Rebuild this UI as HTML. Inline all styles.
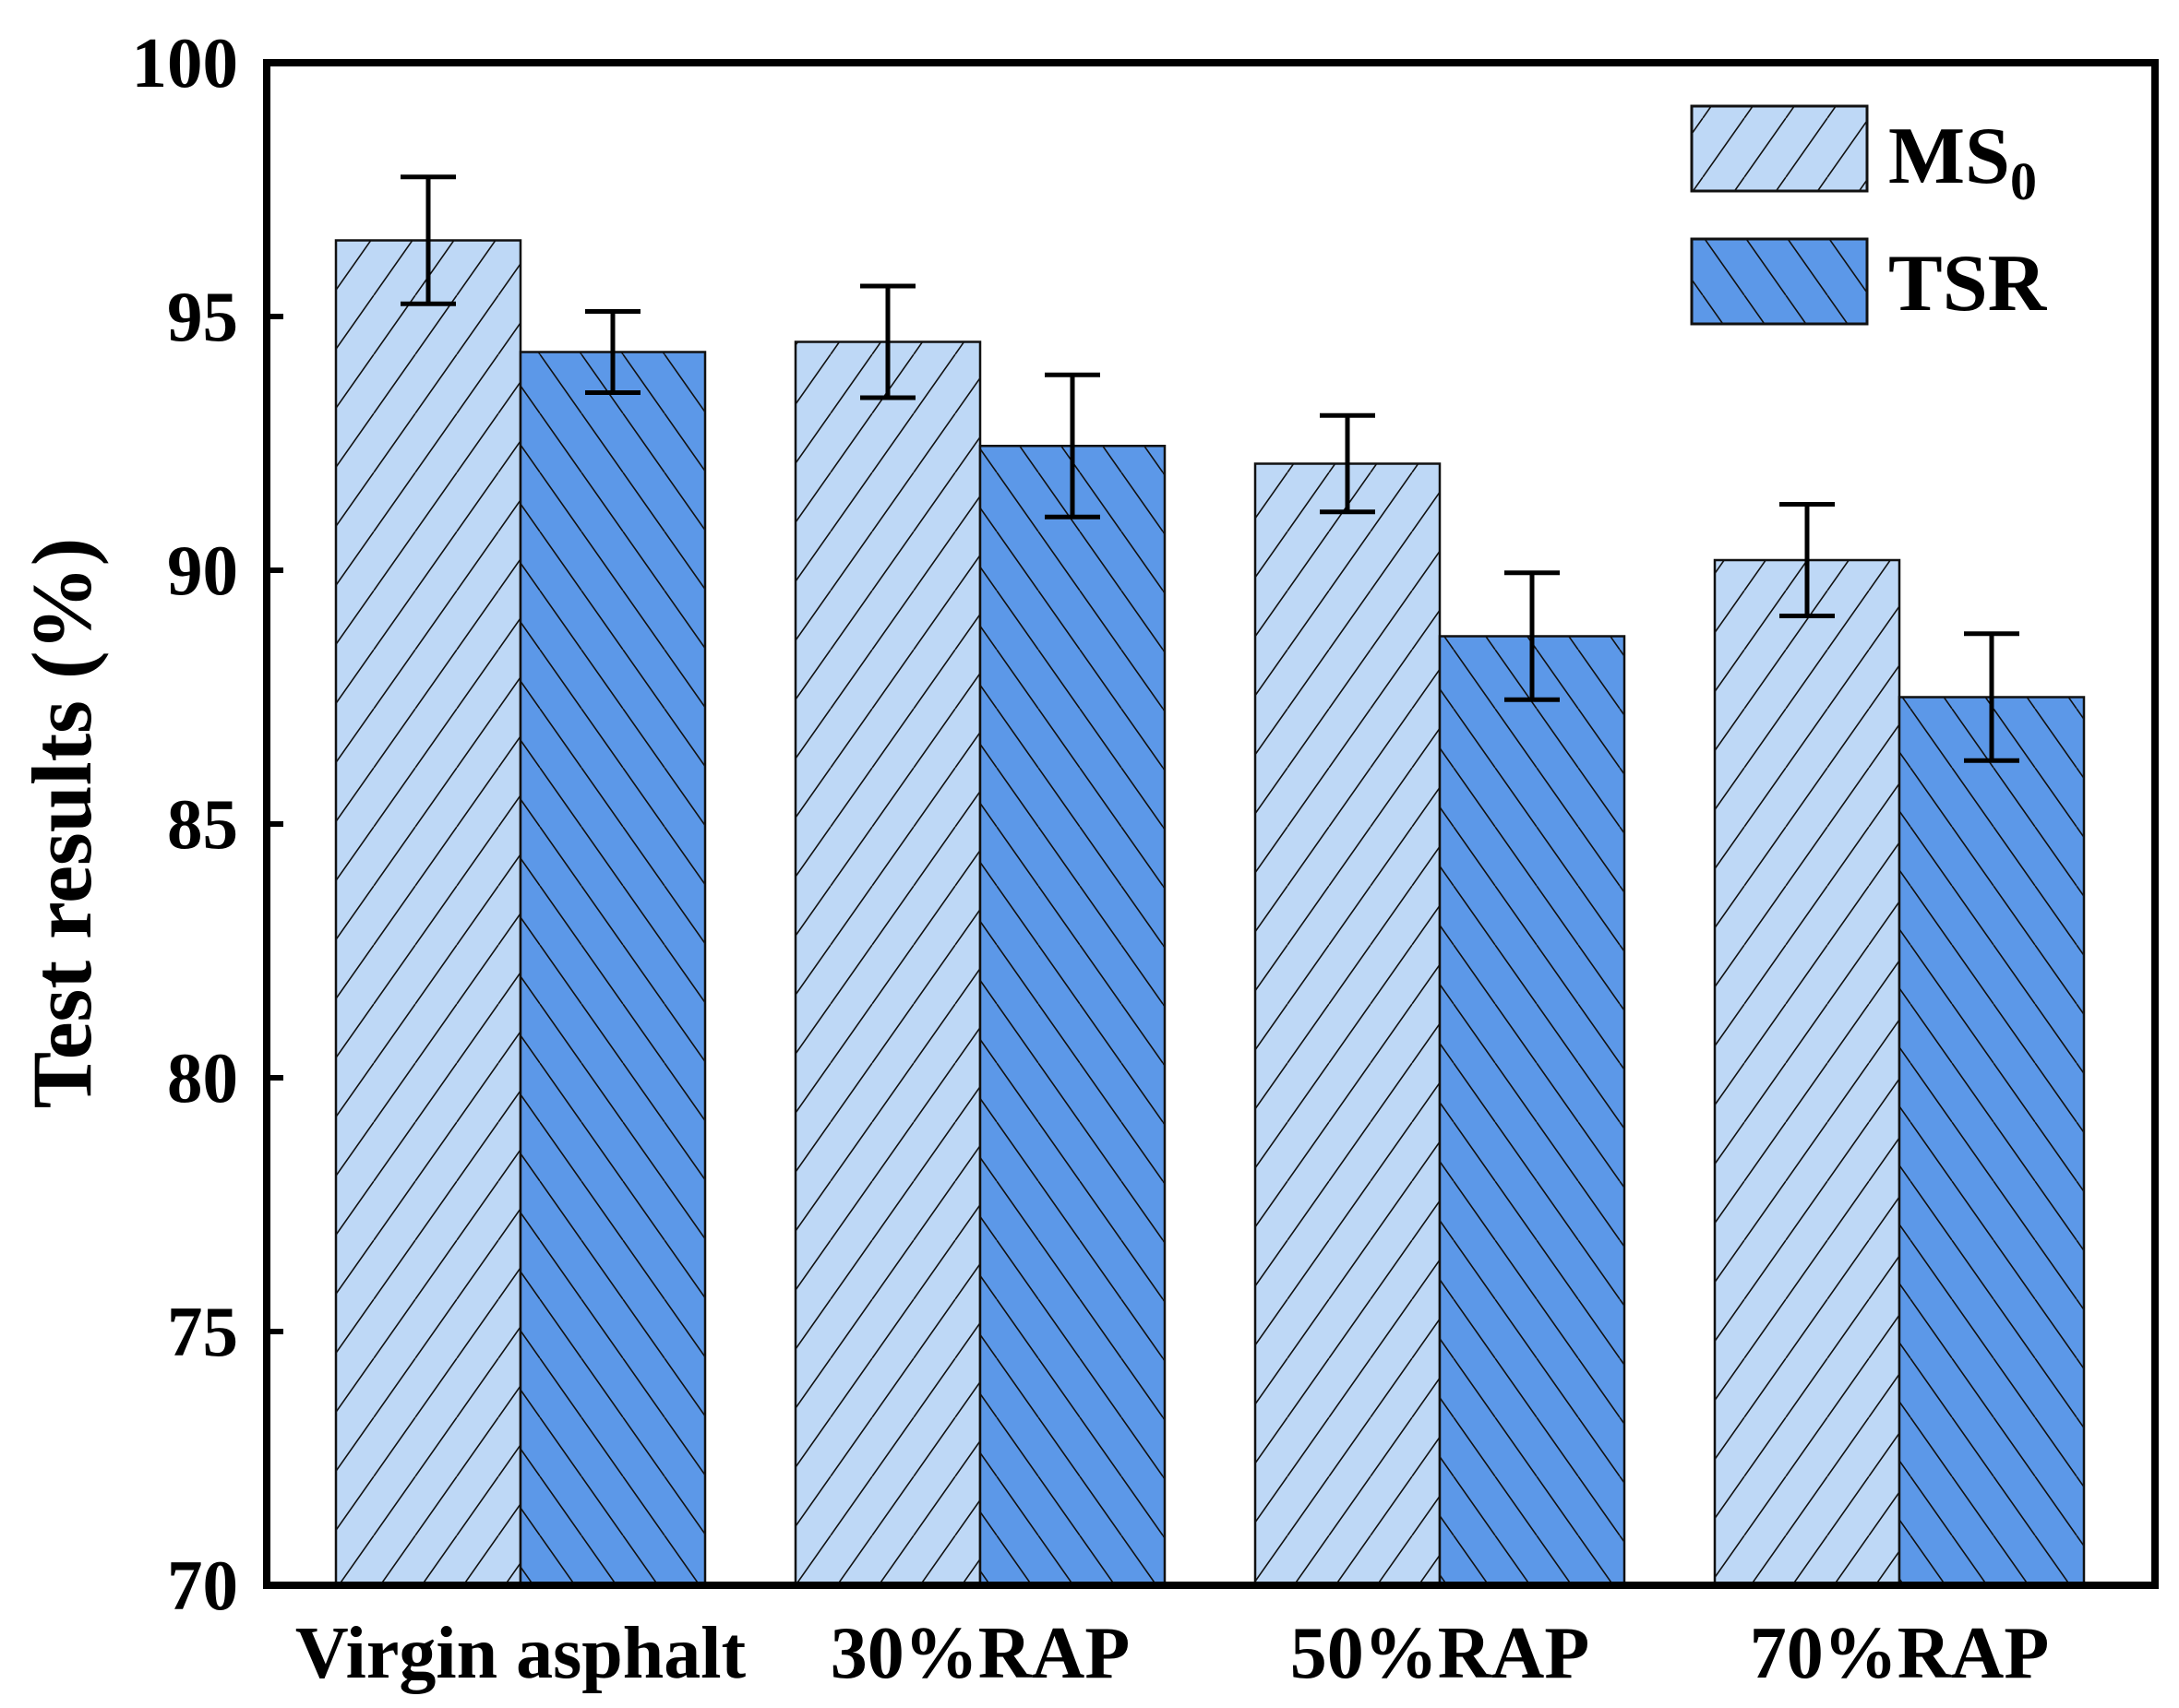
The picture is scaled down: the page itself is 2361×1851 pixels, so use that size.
<!DOCTYPE html>
<html><head><meta charset="utf-8"><style>
html,body{margin:0;padding:0;background:#fff}
svg{display:block}
text{font-family:"Liberation Serif",serif;font-weight:bold;fill:#000}
</style></head><body>
<svg id="chart" width="2361" height="1851" viewBox="0 0 2361 1851" xmlns="http://www.w3.org/2000/svg">
<defs>
<pattern id="hatchMS" patternUnits="userSpaceOnUse" width="45" height="64">
<rect width="45" height="64" fill="#BED8F6"/>
<path d="M-45,64 L0,0 M0,64 L45,0 M45,64 L90,0" stroke="#111" stroke-width="1.6"/>
</pattern>
<pattern id="hatchTSR" patternUnits="userSpaceOnUse" width="45" height="64">
<rect width="45" height="64" fill="#5C98E8"/>
<path d="M-45,0 L0,64 M0,0 L45,64 M45,0 L90,64" stroke="#111" stroke-width="1.6"/>
</pattern>
</defs>
<g id="bars"></g>
<g id="errs"></g>
<g id="axes"></g>
<g>
<rect x="1833" y="115" width="190" height="92" fill="url(#hatchMS)" stroke="#111" stroke-width="3"/>
<text x="2046" y="198" font-size="88">MS<tspan font-size="58" dy="18">0</tspan></text>
<rect x="1833" y="259" width="190" height="92" fill="url(#hatchTSR)" stroke="#111" stroke-width="3"/>
<text x="2046" y="336" font-size="88">TSR</text>
</g>
<text transform="translate(98,892) rotate(-90)" text-anchor="middle" font-size="92">Test results (%)</text>
<script>
const categories = ["Virgin asphalt","30%RAP","50%RAP","70%RAP"];
const ms0Values = [96.5, 94.5, 92.1, 90.2];
const ms0Errors = [1.25, 1.1, 0.95, 1.1];
const tsrValues = [94.3, 92.45, 88.7, 87.5];
const tsrErrors = [0.8, 1.4, 1.25, 1.25];
const yTicks = [70, 75, 80, 85, 90, 95, 100];

const NS = "http://www.w3.org/2000/svg";
const L = 289, R = 2335, T = 68, B = 1718, yMin = 70, yMax = 100;
const y = v => B - (v - yMin) / (yMax - yMin) * (B - T);
const groupStart = i => 364 + i * 498;
const barW = 200;
function mk(tag, attrs, parent) {
  const e = document.createElementNS(NS, tag);
  for (const k in attrs) e.setAttribute(k, attrs[k]);
  parent.appendChild(e);
  return e;
}
const gb = document.getElementById("bars"), ge = document.getElementById("errs"), ga = document.getElementById("axes");
const series = [
  {vals: ms0Values, errs: ms0Errors, fill: "url(#hatchMS)", name: "ms0"},
  {vals: tsrValues, errs: tsrErrors, fill: "url(#hatchTSR)", name: "tsr"}
];
categories.forEach((c, i) => {
  series.forEach((s, j) => {
    const x = groupStart(i) + j * barW;
    const r = mk("rect", {x: x, y: y(s.vals[i]), width: barW, height: B - y(s.vals[i]), fill: s.fill, stroke: "#111", "stroke-width": 2.5}, gb);
    
    
    const cx = x + barW / 2, hi = y(s.vals[i] + s.errs[i]), lo = y(s.vals[i] - s.errs[i]);
    const p = mk("path", {d: `M${cx},${hi} L${cx},${lo} M${cx-30},${hi} L${cx+30},${hi} M${cx-30},${lo} L${cx+30},${lo}`, stroke: "#000", "stroke-width": 5, fill: "none"}, ge);
    
    
  });
  const t = mk("text", {x: groupStart(i) + barW, y: 1818, "text-anchor": "middle", "font-size": 80}, ga);
  t.textContent = c;
  
  
});
yTicks.forEach(v => {
  const tk = mk("line", {x1: L, x2: L + 18, y1: y(v), y2: y(v), stroke: "#000", "stroke-width": 6}, ga);
  
  
  const t = mk("text", {x: 258, y: y(v) + 26, "text-anchor": "end", "font-size": 77}, ga);
  t.textContent = v;
  
  
});
const frame = mk("rect", {x: L, y: T, width: R - L, height: B - T, fill: "none", stroke: "#000", "stroke-width": 8}, ga);


</script>
</svg>
</body></html>
